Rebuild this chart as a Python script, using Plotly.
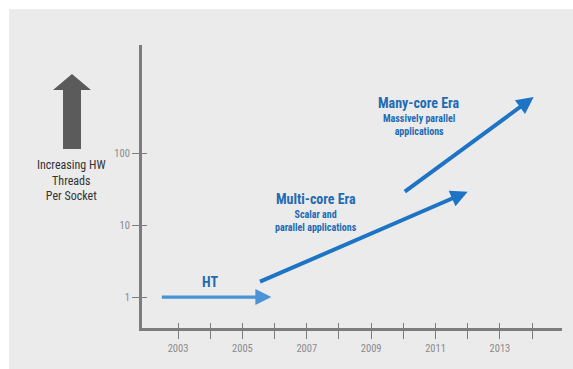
import numpy as np
import plotly.graph_objects as go

# ---- data ----
years = list(range(2003, 2015))
year_labels = [str(y) if y % 2 == 1 else "" for y in years]
thread_ticks = [1, 10, 100]
thread_labels = ["1", "10", "100"]

# era arrows: (start_year, start_threads, end_year, end_threads)
ht_arrow = (2002.45, 1.0, 2005.9, 1.0)
multi_arrow = (2005.5, 1.6, 2012.0, 29.0)
many_arrow = (2010.0, 28.0, 2014.05, 600.0)

era_titles = ["HT", "Multi-core Era", "Many-core Era"]
era_sub = ["", "Scalar and<br>parallel applications", "Massively parallel<br>applications"]
era_label_x = [2004.0, 2007.3, 2010.5]
era_label_y = [1.61, 17.5, 370.0]

FONT = "Liberation Sans Narrow, Arial Narrow, Roboto Condensed, Roboto, sans-serif"
BLUE = "#1d74c4"
TXT_BLUE = "#1f6cb4"
GRAY_BG = "#ebebec"

fig = go.Figure()
fig.add_trace(go.Scatter(x=[years[0]], y=[1], mode="markers",
                         marker=dict(opacity=0), showlegend=False, hoverinfo="skip"))

def add_arrow(a, color, width, size):
    x0, y0, x1, y1 = a
    fig.add_annotation(x=x1, y=np.log10(y1), ax=x0, ay=np.log10(y0),
                       xref="x", yref="y", axref="x", ayref="y",
                       text="", showarrow=True, arrowhead=2, arrowsize=size,
                       arrowwidth=width, arrowcolor=color, standoff=0, startstandoff=0)

add_arrow(ht_arrow, "#4a93d6", 3.2, 1.0)
add_arrow(multi_arrow, BLUE, 4, 0.85)
add_arrow(many_arrow, BLUE, 4, 0.85)

# era labels
for t, s, x, y in zip(era_titles, era_sub, era_label_x, era_label_y):
    if s:
        fig.add_annotation(x=x, y=np.log10(y), xref="x", yref="y", text="<b>%s</b>" % t,
                           showarrow=False, font=dict(family=FONT, size=14, color=TXT_BLUE),
                           xanchor="center", yanchor="bottom", borderpad=0)
        fig.add_annotation(x=x, y=np.log10(y), xref="x", yref="y", text="<b>%s</b>" % s,
                           showarrow=False, borderpad=0,
                           font=dict(family=FONT, size=10, color=TXT_BLUE),
                           xanchor="center", yanchor="top")
    else:
        fig.add_annotation(x=x, y=np.log10(y), xref="x", yref="y", text="<b>%s</b>" % t,
                           showarrow=False, font=dict(family=FONT, size=14, color=TXT_BLUE),
                           xanchor="center", yanchor="middle")

# left side label
fig.add_annotation(x=-0.167, y=0.607, xref="paper", yref="paper",
                   text="Increasing HW<br>Threads<br>Per Socket", showarrow=False,
                   font=dict(family=FONT, size=12, color="#333333"),
                   xanchor="center", yanchor="top", align="center")

# big grey arrow (decoration)
def px(xp):
    return (xp - 142) / 420.0
def py(yp):
    return (328 - yp) / 283.0
pts = [(63, 149), (63, 90), (53, 90), (72, 74), (91, 90), (81, 90), (81, 149)]
path = "M " + " L ".join("%f,%f" % (px(a), py(b)) for a, b in pts) + " Z"
fig.add_shape(type="path", path=path, xref="paper", yref="paper",
              fillcolor="#5b5b5b", line=dict(width=0))

# white border top / left
fig.add_shape(type="rect", xref="paper", yref="paper", x0=px(-5), x1=px(580),
              y0=py(9), y1=py(-5), fillcolor="white", line=dict(width=0), layer="below")
fig.add_shape(type="rect", xref="paper", yref="paper", x0=px(-5), x1=px(9),
              y0=py(380), y1=py(-5), fillcolor="white", line=dict(width=0), layer="below")

axis_color = "#7c7c7c"
fig.update_layout(
    width=573, height=369,
    margin=dict(l=142, r=11, t=45, b=41),
    paper_bgcolor=GRAY_BG, plot_bgcolor="rgba(0,0,0,0)",
    showlegend=False,
    xaxis=dict(range=[2001.88, 2014.93], tickvals=years, ticktext=year_labels,
               showgrid=False, zeroline=False, showline=True, linewidth=3,
               linecolor=axis_color, ticks="outside", ticklen=8, tickwidth=1,
               tickcolor=axis_color,
               tickfont=dict(family=FONT, size=10.5, color="#8a8a8a")),
    yaxis=dict(type="log", range=[-0.43, 3.50], tickvals=thread_ticks, ticktext=thread_labels,
               showgrid=False, zeroline=False, showline=True, linewidth=3,
               linecolor=axis_color, ticks="outside", ticklen=7, tickwidth=1,
               tickcolor=axis_color,
               tickfont=dict(family=FONT, size=10.5, color="#8a8a8a")),
    xaxis2=dict(overlaying="x", matches="x", anchor="y", side="bottom",
                tickvals=years, showticklabels=False, showgrid=False, zeroline=False,
                ticks="inside", ticklen=5, tickwidth=1, tickcolor=axis_color),
    yaxis2=dict(overlaying="y", matches="y", type="log", anchor="x", side="left",
                tickvals=thread_ticks, showticklabels=False, showgrid=False, zeroline=False,
                ticks="inside", ticklen=5, tickwidth=1, tickcolor=axis_color),
)
fig.add_trace(go.Scatter(x=[years[0]], y=[1], xaxis="x2", yaxis="y2", mode="markers",
                         marker=dict(opacity=0), showlegend=False, hoverinfo="skip"))

fig.write_html("out.html")
